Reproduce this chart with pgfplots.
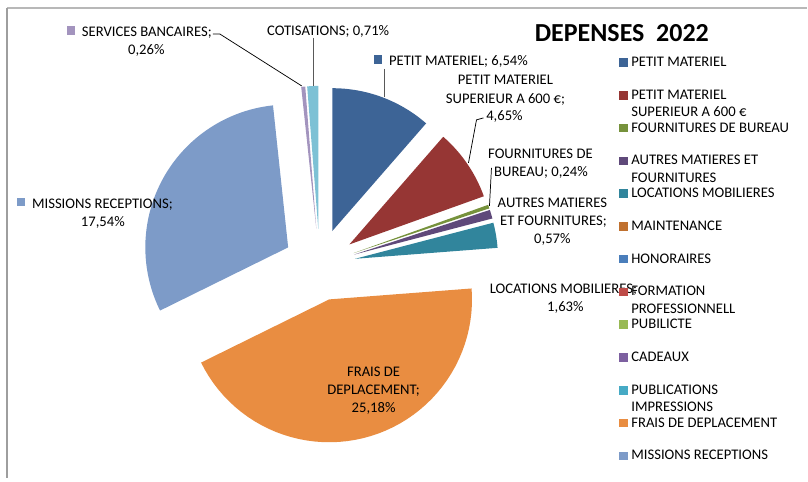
\documentclass[border=0pt]{standalone}
\usepackage{pgfplots}
\pgfplotsset{compat=1.18}
\usepackage{pgfplotstable}
\usepackage{fontspec}
\setmainfont{Carlito}

\definecolor{cPM}{HTML}{3D6496}
\definecolor{cPMS}{HTML}{963634}
\definecolor{cFB}{HTML}{76923C}
\definecolor{cAMF}{HTML}{5F497A}
\definecolor{cLM}{HTML}{31859C}
\definecolor{cMAINT}{HTML}{C0712F}
\definecolor{cHON}{HTML}{4A7EBB}
\definecolor{cFORM}{HTML}{BE4B48}
\definecolor{cPUB}{HTML}{98B954}
\definecolor{cCAD}{HTML}{7D60A0}
\definecolor{cPUBL}{HTML}{46AAC5}
\definecolor{cFD}{HTML}{E98D41}
\definecolor{cMR}{HTML}{7D9BC8}
\definecolor{cSB}{HTML}{A394BE}
\definecolor{cCOT}{HTML}{7DC1D5}
\definecolor{cLead}{HTML}{595959}

% DEPENSES 2022 (percentages as shown in the data labels)
\pgfplotstableread{
idx value
0 6.54
1 4.65
2 0.24
3 0.57
4 1.63
5 0
6 0
7 0
8 0
9 0
10 0
11 25.18
12 17.54
13 0.26
14 0.71
}\depenses

\def\pietotal{0}
\pgfplotsforeachungrouped \i in {0,...,14}{%
  \pgfplotstablegetelem{\i}{value}\of\depenses
  \pgfmathsetmacro\pietotal{\pietotal+\pgfplotsretval}%
}
\def\piecum{0}
\pgfplotsforeachungrouped \i in {0,...,14}{%
  \pgfplotstablegetelem{\i}{value}\of\depenses
  \expandafter\let\csname piesa\i\endcsname\piecum
  \pgfmathsetmacro\piecum{\piecum+360*\pgfplotsretval/\pietotal}%
  \expandafter\let\csname pieea\i\endcsname\piecum
}

\def\cx{320}
\def\cy{265}
\def\R{143}
\def\expl{36}

\newcommand\pieslice[2]{%
  \pgfmathsetmacro\pmid{(\csname piesa#1\endcsname+\csname pieea#1\endcsname)/2}%
  \pgfmathsetmacro\pox{\cx+\expl*sin(\pmid)}%
  \pgfmathsetmacro\poy{\cy-\expl*cos(\pmid)}%
  \edef\pietmp{\noexpand\addplot[fill=#2, draw=none, forget plot,
     domain=\csname piesa#1\endcsname:\csname pieea#1\endcsname,
     samples=50, variable=\noexpand\t]
     ({\pox+\R*sin(\noexpand\t)}, {\poy-\R*cos(\noexpand\t)})
     -- (axis cs:\pox,\poy) -- cycle;}%
  \pietmp
}

\newcommand\lblfont{\fontsize{11}{13.2}\selectfont}
\newcommand\lbl[3]{\node[anchor=base, inner sep=0pt, font=\lblfont] at (axis cs:#1,#2) {#3};}
\newcommand\key[1]{\llap{\textcolor{#1}{\rule[1.2pt]{6.5pt}{6.6pt}}\hspace{5pt}}}

\newcommand\lgone[1]{\rule[-16.6pt]{0pt}{24.6pt}\hspace{2.4pt}#1}
\newcommand\lgtwo[2]{\lgone{\smash{\parbox[t]{118pt}{\raggedright #1\endgraf #2}}}}

\begin{document}
\begin{tikzpicture}
\begin{axis}[
  width=606pt, height=359.25pt, scale only axis,
  hide axis, clip=false,
  xmin=0, xmax=808, ymin=0, ymax=479, y dir=reverse,
  legend image code/.code={\fill[#1] (0pt,-0.2pt) rectangle (6.6pt,6.2pt);},
  legend style={at={(axis cs:620,56)}, anchor=north west,
    draw=none, fill=none, inner sep=0pt, outer sep=0pt,
    row sep=0pt, column sep=0pt,
    font=\lblfont,
    cells={anchor=base west},
    nodes={inner sep=0pt, text depth=, text height=}},
]
\path (axis cs:0,0) rectangle (axis cs:808,479);
% frame
\draw[color=black!28, line width=1.3pt] (axis cs:7,8.3) -- (axis cs:808,8.3);
\draw[color=black!38, line width=1pt] (axis cs:7,8.3) -- (axis cs:7,479);

% slices
\pieslice{0}{cPM}
\pieslice{1}{cPMS}
\pieslice{2}{cFB}
\pieslice{3}{cAMF}
\pieslice{4}{cLM}
\pieslice{11}{cFD}
\pieslice{12}{cMR}
\pieslice{13}{cSB}
\pieslice{14}{cCOT}

% leader lines
\draw[black, line width=0.55pt] (axis cs:213,34) -- (axis cs:220,34) -- (axis cs:302,86);
\draw[cLead, line width=0.9pt] (axis cs:314,38) -- (axis cs:314,86);
\draw[cLead, line width=0.9pt] (axis cs:385,69) -- (axis cs:385,97);
\draw[black, line width=0.55pt] (axis cs:484,118) -- (axis cs:477,120) -- (axis cs:469,163);
\draw[black, line width=0.55pt] (axis cs:492,168) -- (axis cs:490,206);

% data labels
\lbl{147}{36.7}{\key{cSB}SERVICES BANCAIRES;}
\lbl{146.5}{54.3}{0,26\%}
\lbl{328.5}{35.7}{COTISATIONS; 0,71\%}
\lbl{459}{65.2}{\key{cPM}PETIT MATERIEL; 6,54\%}
\lbl{506}{85}{PETIT MATERIEL}
\lbl{506}{103.2}{SUPERIEUR A 600 €;}
\lbl{505}{121}{4,65\%}
\lbl{541}{158.3}{FOURNITURES DE}
\lbl{541.5}{176.6}{BUREAU; 0,24\%}
\lbl{553}{207.3}{AUTRES MATIERES}
\lbl{554}{225.5}{ET FOURNITURES;}
\lbl{553}{243.7}{0,57\%}
\lbl{564}{294.3}{LOCATIONS MOBILIERES;}
\lbl{566}{312.3}{1,63\%}
\lbl{102.5}{208.3}{\key{cMR}MISSIONS RECEPTIONS;}
\lbl{103}{226.7}{17,54\%}
\lbl{374}{376.7}{FRAIS DE}
\lbl{374}{395}{DEPLACEMENT;}
\lbl{374}{412.8}{25,18\%}

% title
\node[anchor=base, inner sep=0pt, font=\bfseries\fontsize{19.5}{22}\selectfont] at (axis cs:622.5,41.7) {DEPENSES\ \ 2022};

% legend
\addlegendimage{fill=cPM, draw=none}
\addlegendentry{\lgone{PETIT MATERIEL}}
\addlegendimage{fill=cPMS, draw=none}
\addlegendentry{\lgtwo{PETIT MATERIEL}{SUPERIEUR A 600 €}}
\addlegendimage{fill=cFB, draw=none}
\addlegendentry{\lgone{FOURNITURES DE BUREAU}}
\addlegendimage{fill=cAMF, draw=none}
\addlegendentry{\lgtwo{AUTRES MATIERES ET}{FOURNITURES}}
\addlegendimage{fill=cLM, draw=none}
\addlegendentry{\lgone{LOCATIONS MOBILIERES}}
\addlegendimage{fill=cMAINT, draw=none}
\addlegendentry{\lgone{MAINTENANCE}}
\addlegendimage{fill=cHON, draw=none}
\addlegendentry{\lgone{HONORAIRES}}
\addlegendimage{fill=cFORM, draw=none}
\addlegendentry{\lgtwo{FORMATION}{PROFESSIONNELL}}
\addlegendimage{fill=cPUB, draw=none}
\addlegendentry{\lgone{PUBILICTE}}
\addlegendimage{fill=cCAD, draw=none}
\addlegendentry{\lgone{CADEAUX}}
\addlegendimage{fill=cPUBL, draw=none}
\addlegendentry{\lgtwo{PUBLICATIONS}{IMPRESSIONS}}
\addlegendimage{fill=cFD, draw=none}
\addlegendentry{\lgone{FRAIS DE DEPLACEMENT}}
\addlegendimage{fill=cMR, draw=none}
\addlegendentry{\lgone{MISSIONS RECEPTIONS}}
\end{axis}
\end{tikzpicture}
\end{document}
